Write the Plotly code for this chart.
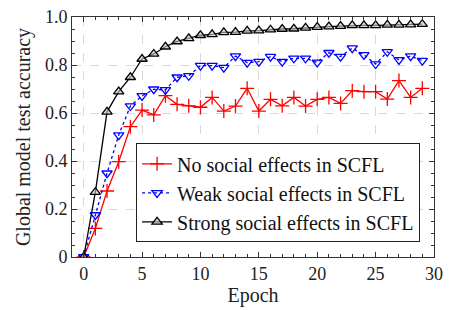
import plotly.graph_objects as go

epochs = list(range(30))
no_social = [0.0, 0.119, 0.275, 0.397, 0.543, 0.612, 0.592, 0.672, 0.636, 0.630,
             0.624, 0.665, 0.608, 0.629, 0.703, 0.608, 0.657, 0.630, 0.665, 0.629,
             0.657, 0.665, 0.640, 0.693, 0.689, 0.689, 0.658, 0.735, 0.665, 0.703]
weak_social = [0.0, 0.175, 0.349, 0.508, 0.629, 0.671, 0.699, 0.696, 0.749, 0.755,
               0.797, 0.797, 0.789, 0.837, 0.810, 0.814, 0.835, 0.814, 0.828, 0.828,
               0.811, 0.851, 0.835, 0.870, 0.842, 0.804, 0.855, 0.821, 0.837, 0.818]
strong_social = [0.0, 0.270, 0.605, 0.689, 0.749, 0.825, 0.846, 0.876, 0.898, 0.911,
                 0.924, 0.928, 0.936, 0.937, 0.942, 0.943, 0.947, 0.950, 0.951, 0.955,
                 0.958, 0.960, 0.962, 0.965, 0.965, 0.965, 0.967, 0.967, 0.968, 0.970]
names = ["No social effects in SCFL", "Weak social effects in SCFL", "Strong social effects in SCFL"]
y_tickvals = [0, 0.2, 0.4, 0.6, 0.8, 1.0]
y_ticktext = ["0", "0.2", "0.4", "0.6", "0.8", "1.0"]
x_tickvals = [0, 5, 10, 15, 20, 25, 30]

font = "Liberation Serif"

fig = go.Figure()
fig.add_trace(go.Scatter(x=epochs, y=no_social, name=names[0], mode="lines+markers",
                         line=dict(color="#ff0000", width=1.3),
                         marker=dict(symbol="cross-thin-open", size=10, color="#ff0000",
                                     line=dict(color="#ff0000", width=1.3))))
fig.add_trace(go.Scatter(x=epochs, y=weak_social, name=names[1], mode="lines+markers",
                         line=dict(color="#0000ff", width=1.3, dash="dot"),
                         marker=dict(symbol="triangle-down-open", size=9, color="#0000ff",
                                     line=dict(color="#0000ff", width=1.3))))
fig.add_trace(go.Scatter(x=epochs, y=strong_social, name=names[2], mode="lines+markers",
                         line=dict(color="#000000", width=1.3),
                         marker=dict(symbol="triangle-up", size=9, color="rgba(200,200,200,0.6)",
                                     line=dict(color="#000000", width=1.3))))

axis_common = dict(showline=True, linecolor="#333333", linewidth=1, mirror="ticks",
                   ticks="inside", ticklen=5, tickcolor="#333333",
                   showgrid=True, gridcolor="#d9d9d9", griddash="dash", gridwidth=1,
                   zeroline=False, automargin=False, ticklabeloverflow="allow",
                   tickfont=dict(family=font, size=18, color="#222222"))

fig.update_xaxes(range=[-1, 30], tickvals=x_tickvals,
                 title=dict(text="Epoch", font=dict(family=font, size=20, color="#222222"), standoff=2),
                 minor=dict(ticks="inside", dtick=1, ticklen=3, tickcolor="#333333", showgrid=False),
                 **axis_common)
fig.update_yaxes(range=[0, 1.0], tickvals=y_tickvals, ticktext=y_ticktext,
                 title=dict(text="Global model test accuracy", font=dict(family=font, size=20, color="#222222"), standoff=8),
                 minor=dict(ticks="inside", dtick=0.05, ticklen=3, tickcolor="#333333", showgrid=False),
                 **axis_common)

# page body has an 8px default margin, so the figure is 8px smaller and margins shifted
fig.update_layout(width=446, height=302, margin=dict(l=64, r=20, t=9, b=53, autoexpand=False),
                  plot_bgcolor="white", paper_bgcolor="white",
                  font=dict(family=font, size=20, color="#111111"),
                  legend=dict(x=0.177, y=0.061, xanchor="left", yanchor="bottom",
                              bgcolor="white", bordercolor="#222222", borderwidth=1,
                              font=dict(family=font, size=20, color="#111111"),
                              tracegroupgap=0, itemwidth=30),
                  showlegend=True)

fig.write_html("out.html")
